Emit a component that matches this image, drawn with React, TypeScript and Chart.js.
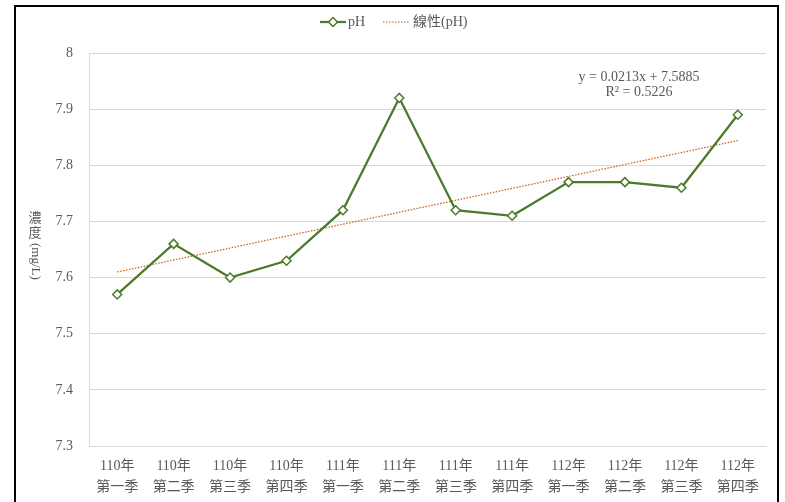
import React, { useEffect, useRef } from "react";
import { Chart, registerables } from "chart.js";

Chart.register(...registerables);

const yearLabels = ["110年", "110年", "110年", "110年", "111年", "111年", "111年", "111年", "112年", "112年", "112年", "112年"];
const quarterLabels = ["第一季", "第二季", "第三季", "第四季", "第一季", "第二季", "第三季", "第四季", "第一季", "第二季", "第三季", "第四季"];
const phValues = [7.57, 7.66, 7.6, 7.63, 7.72, 7.92, 7.72, 7.71, 7.77, 7.77, 7.76, 7.89];
const trendValues = [7.61, null, null, null, null, null, null, null, null, null, null, 7.844];
const yTicks = [7.3, 7.4, 7.5, 7.6, 7.7, 7.8, 7.9, 8];
const equationText = "y = 0.0213x + 7.5885";
const r2Text = "R² = 0.5226";
const yTitleChars = ["濃", "度"];
const yTitleUnit = "(mg/L)";
const seriesName = "pH";
const trendName = "線性(pH)";

const FONT = "'Liberation Serif', 'Times New Roman', 'Noto Sans CJK TC', serif";
const TEXT = "#595959";
const GREEN = "#4a7a2a";
const ORANGE = "#c55a11";

const decorPlugin = {
  id: "decor",
  afterDraw(chart: any) {
    const ctx = chart.ctx as CanvasRenderingContext2D;
    ctx.save();
    // frame
    ctx.strokeStyle = "#000";
    ctx.lineWidth = 2;
    ctx.strokeRect(15, 6, 763, 600);

    // legend
    ctx.fillStyle = TEXT;
    ctx.font = `14px ${FONT}`;
    ctx.textBaseline = "middle";
    ctx.textAlign = "left";
    const ly = 22;
    ctx.strokeStyle = GREEN;
    ctx.lineWidth = 2.25;
    ctx.beginPath();
    ctx.moveTo(320, ly);
    ctx.lineTo(346, ly);
    ctx.stroke();
    ctx.fillStyle = "#fff";
    ctx.lineWidth = 1.5;
    ctx.beginPath();
    ctx.moveTo(333, ly - 4.5);
    ctx.lineTo(337.5, ly);
    ctx.lineTo(333, ly + 4.5);
    ctx.lineTo(328.5, ly);
    ctx.closePath();
    ctx.fill();
    ctx.stroke();
    ctx.fillStyle = TEXT;
    ctx.fillText(seriesName, 348, ly);

    ctx.strokeStyle = ORANGE;
    ctx.lineWidth = 1.2;
    ctx.setLineDash([1.5, 1.5]);
    ctx.beginPath();
    ctx.moveTo(383, ly);
    ctx.lineTo(409, ly);
    ctx.stroke();
    ctx.setLineDash([]);
    ctx.fillText(trendName, 413, ly);

    // equation
    ctx.textAlign = "center";
    ctx.fillText(equationText, 639, 77);
    ctx.fillText(r2Text, 639, 92);

    // y title
    ctx.font = `13px ${FONT}`;
    ctx.fillText(yTitleChars[0], 35, 219);
    ctx.fillText(yTitleChars[1], 35, 234);
    ctx.translate(35, 243);
    ctx.rotate(Math.PI / 2);
    ctx.textAlign = "left";
    ctx.fillText(yTitleUnit, 0, 0);
    ctx.restore();
  },
};

export default function App() {
  const ref = useRef<HTMLCanvasElement | null>(null);
  useEffect(() => {
    document.body.style.margin = "0";
    const labels = yearLabels.map((y, i) => [y, quarterLabels[i]]);
    const chart = new Chart(ref.current!, {
      type: "line",
      data: {
        labels,
        datasets: [
          {
            label: seriesName,
            data: phValues,
            borderColor: GREEN,
            borderWidth: 2.25,
            pointStyle: "rectRot",
            pointRadius: 4.5,
            pointBorderWidth: 1.5,
            pointBackgroundColor: "#fff",
            pointBorderColor: GREEN,
            tension: 0,
            order: 1,
          },
          {
            label: trendName,
            data: trendValues as any,
            borderColor: ORANGE,
            borderWidth: 1.2,
            borderDash: [1.5, 1.5],
            pointRadius: 0,
            spanGaps: true,
            order: 2,
          },
        ],
      },
      options: {
        animation: false,
        responsive: false,
        layout: { padding: { left: 16, right: 19, top: 53, bottom: 0 } },
        plugins: { legend: { display: false }, tooltip: { enabled: false } },
        scales: {
          x: {
            offset: true,
            afterFit(scale: any) {
              scale.height = 56;
            },
            grid: { display: false, drawTicks: false },
            border: { display: true, color: "#d9d9d9" },
            ticks: {
              color: TEXT,
              font: { family: FONT, size: 14, lineHeight: 1.55 },
              padding: 9,
              maxRotation: 0,
              autoSkip: false,
            },
          },
          y: {
            min: 7.3,
            max: 8,
            afterFit(scale: any) {
              scale.width = 73;
            },
            afterBuildTicks(scale: any) {
              scale.ticks = yTicks.map((v) => ({ value: v }));
            },
            grid: { color: "#d9d9d9", drawTicks: false },
            border: { display: true, color: "#d9d9d9" },
            ticks: {
              color: TEXT,
              font: { family: FONT, size: 14 },
              padding: 16,
              callback: (v: any) => String(Number(v)),
            },
          },
        },
      },
      plugins: [decorPlugin],
    });
    return () => chart.destroy();
  }, []);
  return (
    <div style={{ position: "fixed", left: 0, top: 0, width: 785, height: 502, background: "#fff" }}>
      <canvas ref={ref} width={785} height={502} style={{ width: 785, height: 502 }} />
    </div>
  );
}
